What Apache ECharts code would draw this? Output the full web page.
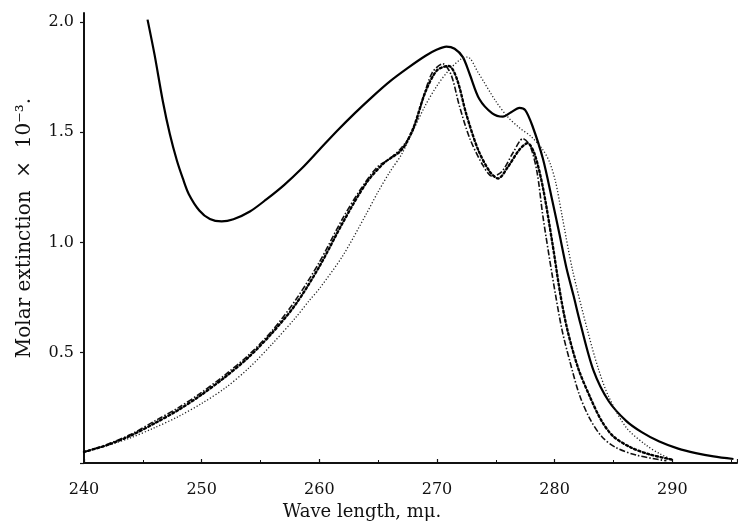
<!DOCTYPE html>
<html>
<head>
<meta charset="utf-8">
<script src="https://cdn.jsdelivr.net/npm/echarts@6/dist/echarts.min.js"></script>
<style>html,body{margin:0;padding:0;background:#fff}#c{width:738px;height:526px}</style>
</head>
<body>
<div id="c"></div>
<script>
// Tick labels
const xTicks = [240, 250, 260, 270, 280, 290];
const yTicks = [0.5, 1.0, 1.5, 2.0];
const xTitle = 'Wave length, m\u03bc.';
const yTitle = 'Molar extinction  \u00d7  10\u207b\u00b3.';

// Solid curve
const solidX = [245.4,246.0,246.7,247.3,247.9,248.4,248.9,249.8,250.7,251.7,252.7,254.1,255.5,257.0,258.5,260.0,261.5,263.0,264.5,266.0,267.5,269.0,270.0,270.8,271.5,272.2,272.8,273.6,274.7,275.6,276.3,277.0,277.5,278.1,279.0,279.8,280.4,281.0,281.6,282.2,283.3,284.6,286.1,287.4,288.9,290.5,292.0,293.5,295.2];
const solidY = [2.01,1.85,1.64,1.49,1.37,1.29,1.22,1.145,1.106,1.095,1.105,1.14,1.195,1.26,1.335,1.42,1.505,1.585,1.66,1.73,1.79,1.845,1.874,1.888,1.878,1.84,1.76,1.65,1.585,1.57,1.59,1.61,1.60,1.53,1.38,1.19,1.04,0.885,0.76,0.63,0.42,0.28,0.19,0.14,0.097,0.065,0.045,0.03,0.018];

// Fine dotted curve
const fineX = [240,242,244,246,248,250,252,254,256,258,259.2,260,262,264,265,266,267,268,269,270,271,272,272.6,273.5,275,276,277,278,279,279.6,280.1,280.6,281.5,282.8,283.7,284.6,286.1,287.8,289,290];
const fineY = [0.05,0.08,0.115,0.16,0.21,0.27,0.34,0.43,0.54,0.66,0.74,0.79,0.94,1.13,1.23,1.32,1.40,1.51,1.62,1.71,1.78,1.83,1.84,1.77,1.64,1.57,1.52,1.48,1.42,1.36,1.27,1.13,0.88,0.60,0.43,0.30,0.16,0.08,0.04,0.015];

// Dash-dot curve
const dashDotX = [240,242,244,246,248,250,252,254,256,258,260,262,263.5,264.9,266,267,267.9,268.8,269.6,270.5,271.2,271.9,272.8,273.9,274.7,275.5,276.5,277.3,277.9,278.5,279.0,279.8,280.6,281.3,282.1,283.0,284.0,285.2,287,289.5];
const dashDotY = [0.05,0.085,0.13,0.19,0.25,0.32,0.40,0.49,0.60,0.74,0.91,1.11,1.24,1.34,1.38,1.43,1.50,1.65,1.77,1.81,1.76,1.62,1.47,1.35,1.30,1.32,1.41,1.47,1.44,1.32,1.12,0.85,0.61,0.46,0.31,0.20,0.12,0.07,0.035,0.01];

// Heavy dotted curve
const heavyX = [240,242,244,246,248,250,252,254,256,258,260,262,264,265.5,267,268,269,270,271,271.7,272.5,273.5,274.5,275.2,276,277,277.7,278.3,279.0,279.8,280.5,281.1,282.0,283.0,284.0,285.0,286.5,288.0,290.0];
const heavyY = [0.05,0.082,0.125,0.18,0.24,0.31,0.39,0.48,0.59,0.72,0.89,1.09,1.27,1.36,1.42,1.52,1.68,1.78,1.80,1.74,1.58,1.42,1.32,1.29,1.34,1.42,1.45,1.40,1.25,1.00,0.76,0.60,0.43,0.30,0.19,0.12,0.07,0.04,0.015];

function pairs(xs, ys) { return xs.map((x, i) => [x, ys[i]]); }

const FONT = 'DejaVu Serif';
const chart = echarts.init(document.getElementById('c'), null, {renderer: 'canvas'});
chart.setOption({
  animation: false,
  backgroundColor: '#ffffff',
  grid: {left: 84, right: 1, top: 13, bottom: 63, containLabel: false},
  xAxis: {
    type: 'value', min: 240, max: 295.5, interval: 10,
    axisLine: {show: true, lineStyle: {color: '#111', width: 2}},
    axisTick: {show: true, inside: true, length: 4, lineStyle: {color: '#111', width: 1.2}},
    minorTick: {show: true, splitNumber: 2, length: 3, lineStyle: {color: '#111', width: 1}},
    splitLine: {show: false},
    axisLabel: {
      showMaxLabel: false, margin: 19, color: '#111',
      fontFamily: FONT, fontSize: 16,
      formatter: v => xTicks.indexOf(v) >= 0 ? String(v) : ''
    }
  },
  yAxis: {
    type: 'value', min: 0, max: 2.04, interval: 0.5,
    axisLine: {show: true, lineStyle: {color: '#111', width: 2}},
    axisTick: {show: true, inside: false, length: 4, lineStyle: {color: '#111', width: 1.2}},
    splitLine: {show: false},
    axisLabel: {
      showMaxLabel: false, margin: 10, color: '#111',
      fontFamily: FONT, fontSize: 16,
      formatter: v => yTicks.some(t => Math.abs(t - v) < 1e-6) ? v.toFixed(1) : ''
    }
  },
  graphic: [
    {type: 'text', x: 362, y: 512, style: {text: xTitle, font: '18px "DejaVu Serif"', fill: '#111', align: 'center', verticalAlign: 'middle'}},
    {type: 'text', x: 25, y: 228, rotation: Math.PI / 2, style: {text: yTitle, font: '20px "DejaVu Serif"', fill: '#111', align: 'center', verticalAlign: 'middle'}}
  ],
  series: [
    {type: 'line', data: pairs(solidX, solidY), smooth: 0.3, showSymbol: false,
     lineStyle: {color: '#000', width: 2.2, type: 'solid'}},
    {type: 'line', data: pairs(fineX, fineY), smooth: 0.3, showSymbol: false,
     lineStyle: {color: '#222', width: 1.3, type: [1.2, 2]}},
    {type: 'line', data: pairs(dashDotX, dashDotY), smooth: 0.3, showSymbol: false,
     lineStyle: {color: '#111', width: 1.6, type: [6, 2, 1.5, 2]}},
    {type: 'line', data: pairs(heavyX, heavyY), smooth: 0.3, showSymbol: false,
     lineStyle: {color: '#000', width: 2.4, type: [2, 2.6], cap: 'round'}}
  ]
});
</script>
</body>
</html>
